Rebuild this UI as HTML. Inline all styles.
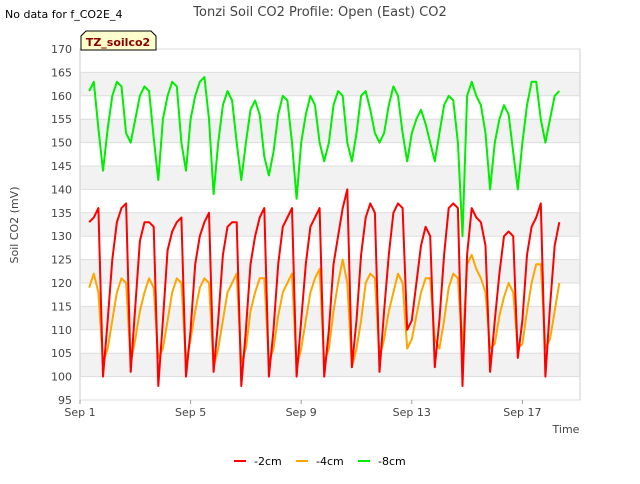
<!DOCTYPE html>
<html><head><meta charset="utf-8"><style>
body{margin:0;background:#fff;font-family:"DejaVu Sans","Liberation Sans",sans-serif}
svg text{font-family:"DejaVu Sans","Liberation Sans",sans-serif}
</style></head><body>
<svg id="chart" width="640" height="480" viewBox="0 0 640 480" xmlns="http://www.w3.org/2000/svg">
<rect width="640" height="480" fill="#fff"/>
<text x="5" y="18" font-size="11" fill="#000">No data for f_CO2E_4</text>
<text x="320" y="16" font-size="13" fill="#444" text-anchor="middle">Tonzi Soil CO2 Profile: Open (East) CO2</text>
<g id="bands"></g>
<rect x="80" y="49" width="500" height="351" fill="none" stroke="#ccc"/>
<g id="yticks"></g><g id="xticks"></g><g id="series"></g>
<g>
<path d="M81,50 L81,36 L86,31 L151,31 L156,36 L156,50 Z" fill="#ffffcc" stroke="#000"/>
<text x="118" y="46" font-size="11" font-weight="bold" fill="#8b0000" text-anchor="middle">TZ_soilco2</text>
</g>
<text x="18" y="225" font-size="11" fill="#444" text-anchor="middle" transform="rotate(-90 18 225)">Soil CO2 (mV)</text>
<text x="566" y="433" font-size="11" fill="#444" text-anchor="middle">Time</text>
<g>
<line x1="234" y1="461" x2="246" y2="461" stroke="#ff0000" stroke-width="2"/><text x="254" y="465" font-size="11" fill="#000">-2cm</text>
<line x1="296" y1="461" x2="308" y2="461" stroke="#ffa500" stroke-width="2"/><text x="316" y="465" font-size="11" fill="#000">-4cm</text>
<line x1="358" y1="461" x2="370" y2="461" stroke="#00ee00" stroke-width="2"/><text x="378" y="465" font-size="11" fill="#000">-8cm</text>
</g>
</svg>
<script>
const yTicks=[95,100,105,110,115,120,125,130,135,140,145,150,155,160,165,170];
const xTickLabels=["Sep 1","Sep 5","Sep 9","Sep 13","Sep 17"];
const xTickDays=[0,4,8,12,16];
const startDay=1/3, stepDay=1/6;
const red=[133,134,136,100,
112,125,133,136,137,101, 115,129,133,133,132,98, 112,127,131,133,134,100, 110,124,130,133,135,101,
112,126,132,133,133,98, 110,124,130,134,136,100, 110,124,132,134,136,100, 112,124,132,134,136,100,
110,124,130,136,140,102, 112,126,134,137,135,101, 114,126,135,137,136,110, 112,120,128,132,130,102,
112,126,136,137,136,98, 126,136,134,133,128,101, 112,122,130,131,130,104, 112,126,132,134,137,100,
115,128,133];
const orange=[119,122,118,103,
106,112,118,121,120,103, 108,114,118,121,119,104, 106,112,118,121,120,103, 108,114,119,121,120,102,
106,112,118,120,122,103, 106,114,118,121,121,103, 106,113,118,120,122,102, 106,112,118,121,123,103,
106,114,120,125,120,102, 106,112,120,122,121,104, 108,114,118,122,120,106, 108,113,118,121,121,108,
106,112,119,122,121,106, 124,126,123,121,118,106, 107,113,117,120,118,106, 107,114,120,124,124,106,
108,114,120];
const green=[161,163,153,144,
153,160,163,162,152,150, 155,160,162,161,151,142, 155,160,163,162,150,144, 155,160,163,164,155,139,
150,158,161,159,150,142, 150,157,159,156,147,143, 148,156,160,159,150,138, 150,156,160,158,150,146,
150,158,161,160,150,146, 152,160,161,157,152,150, 152,158,162,160,152,146, 152,155,157,154,150,146,
152,158,160,159,150,130, 160,163,160,158,152,140, 150,155,158,156,148,140, 150,158,163,163,155,150,
155,160,161];
const NS="http://www.w3.org/2000/svg";
const X0=80,PX=27.65,Y0=400,PY=351/75;
const xs=d=>X0+d*PX, ys=v=>Y0-(v-95)*PY;
function mk(t,a,p){const e=document.createElementNS(NS,t);for(const k in a)e.setAttribute(k,a[k]);p.appendChild(e);return e;}
const bands=document.getElementById('bands');
for(let v=100;v<170;v+=10){
 const r=mk('rect',{x:80,y:ys(v+5),width:500,height:5*PY,fill:'#f2f2f2'},bands);
 
 
}
const yg=document.getElementById('yticks');
yTicks.forEach(v=>{
 const l=mk('line',{x1:80,x2:580,y1:ys(v),y2:ys(v),stroke:'#ddd'},yg);
 
 
 const t=mk('text',{x:72,y:ys(v)+4,'font-size':11,fill:'#444','text-anchor':'end'},yg);
 
 
 t.textContent=v;
});
const xg=document.getElementById('xticks');
xTickDays.forEach((d,i)=>{
 const l=mk('line',{x1:xs(d),x2:xs(d),y1:400,y2:404,stroke:'#999'},xg);
 
 
 const t=mk('text',{x:xs(d),y:416,'font-size':11,fill:'#444','text-anchor':'middle'},xg);
 
 
 t.textContent=xTickLabels[i];
});
const sg=document.getElementById('series');
[[green,'#00ee00','series-8cm'],[orange,'#ffa500','series-4cm'],[red,'#ff0000','series-2cm']].forEach(([arr,c,n])=>{
 const pts=arr.map((v,i)=>xs(startDay+i*stepDay).toFixed(1)+','+ys(v).toFixed(1)).join(' ');
 const p=mk('polyline',{points:pts,fill:'none',stroke:c,'stroke-width':2,'stroke-linejoin':'round'},sg);
 
 
});
</script>
</body></html>
